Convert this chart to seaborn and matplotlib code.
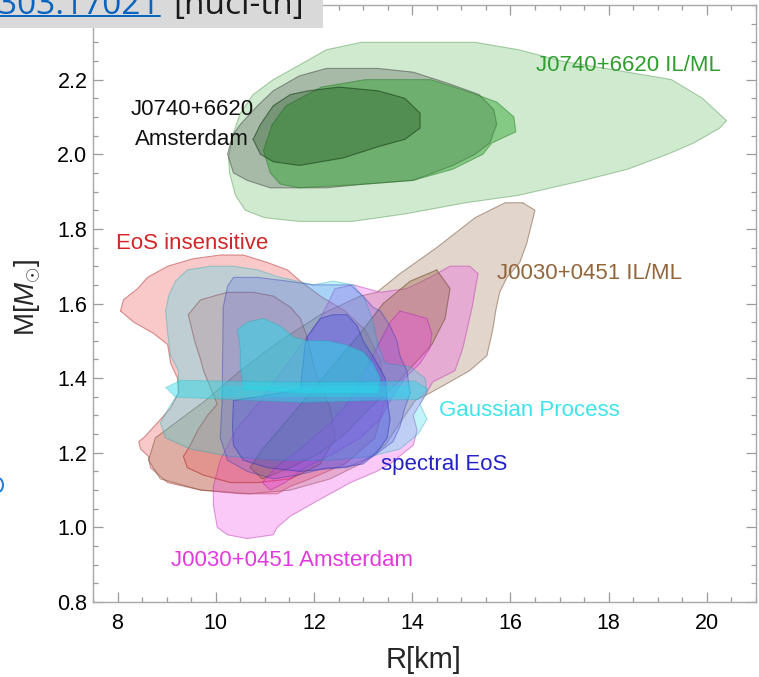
import matplotlib
matplotlib.use("Agg")
import matplotlib.pyplot as plt
from matplotlib.ticker import MultipleLocator, FixedLocator
from matplotlib.patches import Rectangle, Ellipse
import seaborn as sns

# ---------------------------------------------------------------
# Credible regions in the mass-radius plane: vertices (R [km], M [Msun])
# ---------------------------------------------------------------
# PSR J0740+6620, IL/ML analysis
j0740_ilml_95_R = [11.58, 12.25, 12.96, 14.02, 15.28, 16.17, 17.04, 18.39, 19.28, 19.91, 20.40, 20.26,
                   19.73, 19.20, 18.39, 17.49, 16.17, 15.09, 13.85, 12.78, 11.70, 10.99, 10.60, 10.40,
                   10.28, 10.26, 10.34, 10.50, 10.76, 11.17]
j0740_ilml_95_M = [2.23, 2.28, 2.30, 2.30, 2.30, 2.28, 2.25, 2.22, 2.20, 2.15, 2.09, 2.07,
                   2.03, 2.00, 1.96, 1.93, 1.89, 1.87, 1.84, 1.82, 1.82, 1.83, 1.85, 1.89,
                   1.95, 1.99, 2.05, 2.11, 2.16, 2.20]
j0740_ilml_68_R = [10.97, 11.15, 11.43, 12.15, 13.04, 14.38, 15.09, 15.72, 16.07, 16.11, 15.62, 15.44,
                   14.83, 14.02, 13.04, 11.70, 11.31, 11.11]
j0740_ilml_68_M = [2.01, 2.08, 2.13, 2.18, 2.20, 2.20, 2.17, 2.14, 2.10, 2.06, 2.03, 2.00,
                   1.96, 1.93, 1.92, 1.91, 1.92, 1.95]
# PSR J0740+6620, Amsterdam analysis
j0740_ams_95_R = [10.24, 10.34, 10.50, 10.85, 11.17, 11.70, 12.25, 13.30, 14.02, 14.73, 15.36, 15.66,
                  15.72, 15.58, 15.28, 14.83, 14.02, 13.04, 12.25, 11.62, 11.11, 10.64, 10.36]
j0740_ams_95_M = [2.00, 2.05, 2.08, 2.13, 2.17, 2.21, 2.23, 2.23, 2.22, 2.19, 2.16, 2.12,
                  2.08, 2.03, 2.00, 1.97, 1.93, 1.92, 1.91, 1.91, 1.91, 1.93, 1.95]
j0740_ams_68_R = [10.76, 10.91, 11.17, 11.52, 11.88, 12.51, 13.30, 13.85, 14.16, 14.16, 13.85, 13.30,
                  12.59, 11.70, 11.17, 10.91]
j0740_ams_68_M = [2.04, 2.08, 2.13, 2.16, 2.17, 2.18, 2.17, 2.15, 2.11, 2.07, 2.04, 2.02,
                  1.99, 1.97, 1.98, 2.00]

# PSR J0030+0451, IL/ML analysis
j0030_ilml_95_R = [16.25, 16.50, 16.33, 16.19, 15.93, 15.78, 15.70, 15.64, 15.52, 15.17, 14.77, 14.36,
                   14.06, 13.75, 13.45, 12.94, 12.33, 11.52, 10.70, 9.69, 8.87, 8.63, 8.77, 9.28,
                   9.79, 10.50, 11.31, 12.13, 12.94, 13.28, 13.75, 14.50, 15.28, 15.89]
j0030_ilml_95_M = [1.87, 1.85, 1.76, 1.71, 1.67, 1.63, 1.58, 1.53, 1.46, 1.42, 1.39, 1.36,
                   1.34, 1.28, 1.22, 1.17, 1.13, 1.10, 1.09, 1.10, 1.13, 1.18, 1.24, 1.29,
                   1.34, 1.42, 1.50, 1.57, 1.62, 1.63, 1.68, 1.75, 1.83, 1.87]
j0030_ilml_68_R = [14.50, 14.77, 14.67, 14.40, 14.06, 13.65, 13.14, 12.63, 12.13, 11.52, 10.95, 10.70,
                   10.95, 11.41, 11.92, 12.43, 12.94, 13.41, 13.96]
j0030_ilml_68_M = [1.69, 1.64, 1.56, 1.49, 1.44, 1.38, 1.32, 1.25, 1.20, 1.16, 1.13, 1.16,
                   1.21, 1.28, 1.36, 1.44, 1.52, 1.60, 1.66]
# PSR J0030+0451, Amsterdam analysis
j0030_ams_95_R = [9.95, 9.95, 9.99, 10.03, 10.24, 10.64, 11.17, 11.25, 11.52, 11.92, 12.19, 12.47,
                  12.74, 13.28, 13.55, 14.02, 14.10, 14.02, 14.42, 14.87, 15.03, 15.22, 15.34, 15.17,
                  14.77, 14.36, 13.89, 13.35, 12.80, 12.43, 12.13, 11.52, 10.91, 10.40, 10.09]
j0030_ams_95_M = [1.11, 1.06, 1.03, 1.00, 0.98, 0.97, 0.98, 1.00, 1.03, 1.06, 1.08, 1.10,
                  1.12, 1.15, 1.17, 1.22, 1.26, 1.30, 1.39, 1.42, 1.48, 1.59, 1.68, 1.70,
                  1.70, 1.67, 1.64, 1.63, 1.65, 1.64, 1.56, 1.45, 1.34, 1.26, 1.18]
j0030_ams_68_R = [13.75, 14.30, 14.40, 14.36, 14.16, 13.85, 13.55, 13.35, 12.94, 12.43, 11.82, 11.41,
                  11.11, 10.95, 11.21, 11.72, 12.33, 12.74, 13.04, 13.35, 13.55]
j0030_ams_68_M = [1.58, 1.56, 1.52, 1.48, 1.44, 1.40, 1.34, 1.29, 1.24, 1.20, 1.16, 1.12,
                  1.10, 1.12, 1.16, 1.21, 1.28, 1.34, 1.42, 1.50, 1.55]

# EoS-insensitive inference
eos_ins_95_R = [8.06, 8.12, 8.41, 8.61, 9.02, 9.54, 10.09, 10.56, 11.05, 11.46, 11.72, 12.13,
                12.63, 13.04, 13.35, 13.45, 13.24, 12.63, 11.92, 11.52, 11.25, 10.50, 9.69, 9.02,
                8.67, 8.63, 8.47, 8.43, 8.53, 8.81, 9.08, 9.24, 9.22, 9.08, 9.02, 8.73, 8.33]
eos_ins_95_M = [1.58, 1.61, 1.64, 1.67, 1.70, 1.72, 1.73, 1.73, 1.71, 1.69, 1.66, 1.62,
                1.58, 1.53, 1.45, 1.34, 1.24, 1.17, 1.13, 1.11, 1.09, 1.09, 1.10, 1.12,
                1.16, 1.19, 1.21, 1.23, 1.24, 1.28, 1.32, 1.36, 1.40, 1.44, 1.49, 1.52, 1.55]
eos_ins_68_R = [9.44, 9.69, 10.24, 10.76, 11.17, 11.52, 11.72, 11.86, 12.02, 12.33, 12.43, 12.13,
                11.52, 10.85, 10.30, 9.75, 9.42, 9.34, 9.48, 9.63, 9.83, 10.03, 9.75, 9.69, 9.57]
eos_ins_68_M = [1.57, 1.61, 1.63, 1.63, 1.62, 1.59, 1.56, 1.51, 1.42, 1.32, 1.24, 1.17,
                1.13, 1.12, 1.12, 1.14, 1.16, 1.19, 1.22, 1.26, 1.30, 1.33, 1.42, 1.45, 1.50]

# Gaussian-process EoS inference
gp_95_R = [8.98, 9.04, 9.18, 9.42, 9.89, 10.36, 10.85, 11.31, 11.66, 11.98, 12.39, 12.80,
           13.04, 13.18, 13.30, 13.45, 13.96, 14.26, 14.30, 14.16, 14.30, 14.12, 13.75, 13.14,
           12.33, 11.31, 10.30, 9.48, 8.98, 8.87, 9.04, 9.24, 9.24, 9.08, 9.02]
gp_95_M = [1.58, 1.62, 1.66, 1.69, 1.70, 1.70, 1.69, 1.67, 1.66, 1.65, 1.66, 1.65,
           1.61, 1.56, 1.49, 1.44, 1.43, 1.40, 1.36, 1.33, 1.29, 1.25, 1.21, 1.19,
           1.18, 1.18, 1.19, 1.21, 1.24, 1.28, 1.32, 1.36, 1.42, 1.46, 1.52]
gp_68_R = [10.44, 10.64, 10.97, 11.31, 11.58, 11.86, 12.27, 12.63, 13.00, 13.20, 13.35, 13.30,
           11.72, 10.56, 10.50, 10.50]
gp_68_M = [1.53, 1.55, 1.56, 1.54, 1.51, 1.50, 1.50, 1.49, 1.47, 1.44, 1.40, 1.36,
           1.36, 1.37, 1.43, 1.48]
gp_band_R = [8.98, 9.28, 11.72, 14.06, 14.32, 14.12, 11.72, 9.18]
gp_band_M = [1.375, 1.394, 1.389, 1.392, 1.370, 1.343, 1.335, 1.349]
gp_core_R = [10.09, 13.96, 13.96, 10.09]
gp_core_M = [1.378, 1.378, 1.349, 1.349]

# spectral EoS inference
spec_95_R = [10.24, 10.36, 10.85, 11.46, 11.98, 12.39, 12.74, 13.00, 13.20, 13.35, 13.55, 13.69,
             13.75, 13.89, 13.96, 13.85, 13.75, 13.61, 13.20, 12.67, 12.27, 11.66, 11.17, 10.64,
             10.24, 10.09, 10.13, 10.15]
spec_95_M = [1.646, 1.67, 1.67, 1.66, 1.65, 1.65, 1.65, 1.62, 1.59, 1.58, 1.54, 1.50,
             1.46, 1.42, 1.36, 1.32, 1.27, 1.23, 1.19, 1.16, 1.16, 1.14, 1.13, 1.15,
             1.18, 1.24, 1.34, 1.59]
spec_68_R = [10.36, 11.31, 11.72, 11.82, 11.86, 12.13, 12.39, 12.67, 12.88, 13.00, 13.24, 13.45,
             13.49, 13.55, 13.49, 13.28, 13.00, 12.53, 11.72, 11.05, 10.56, 10.36, 10.34]
spec_68_M = [1.34, 1.36, 1.37, 1.49, 1.51, 1.56, 1.57, 1.57, 1.54, 1.50, 1.45, 1.40,
             1.34, 1.29, 1.24, 1.20, 1.17, 1.16, 1.15, 1.16, 1.18, 1.22, 1.27]

# label text, colour and (R, M) anchor
label_text = ["J0740+6620 IL/ML", "J0740+6620", "Amsterdam", "EoS insensitive",
              "J0030+0451 IL/ML", "Gaussian Process", "spectral EoS", "J0030+0451 Amsterdam"]
label_R = [18.41, 9.52, 9.52, 9.52, 17.61, 16.39, 14.65, 11.56]
label_M = [2.237, 2.120, 2.039, 1.761, 1.681, 1.314, 1.169, 0.912]
label_color = ["#2f9e2f", "#111111", "#111111", "#d42626", "#93653a", "#3fe3ec", "#2222c8", "#e03ade"]

x_ticks = [8, 10, 12, 14, 16, 18, 20]
y_ticks = [0.8, 1.0, 1.2, 1.4, 1.6, 1.8, 2.0, 2.2]

# ---------------------------------------------------------------
sns.set_theme(style="ticks")
plt.rcParams["font.family"] = ["Liberation Sans", "DejaVu Sans"]
plt.rcParams["mathtext.fontset"] = "custom"
plt.rcParams["mathtext.it"] = "Liberation Sans:italic"
plt.rcParams["mathtext.rm"] = "Liberation Sans"

fig = plt.figure(figsize=(7.59, 6.77), dpi=100)
ax = fig.add_axes([93 / 759, 75 / 677, 663 / 759, 597 / 677])

GREEN = (0.16, 0.63, 0.16)
GRAY = (0.25, 0.25, 0.25)
DARKGREEN = (0.12, 0.32, 0.12)
BROWN = (0.60, 0.42, 0.28)
MAGENTA = (0.95, 0.25, 0.90)
RED = (0.93, 0.25, 0.25)
CYAN = (0.15, 0.86, 0.92)
BLUE = (0.25, 0.30, 0.93)


def darker(c, f=0.75):
    return tuple(v * f for v in c)


def region(R, M, color, alpha, edge_alpha=0.55, lw=0.8, z=2):
    ax.fill(R, M, facecolor=color, alpha=alpha, lw=0, zorder=z)
    sns.lineplot(x=list(R) + [R[0]], y=list(M) + [M[0]], sort=False, estimator=None,
                 color=darker(color), lw=lw, alpha=edge_alpha, ax=ax, zorder=z)


# J0740+6620 posteriors
region(j0740_ilml_95_R, j0740_ilml_95_M, GREEN, 0.22, 0.35)
region(j0740_ams_95_R, j0740_ams_95_M, GRAY, 0.28, 0.45)
region(j0740_ilml_68_R, j0740_ilml_68_M, GREEN, 0.45, 0.45)
region(j0740_ams_68_R, j0740_ams_68_M, DARKGREEN, 0.35, 0.6)

# J0030+0451 posteriors and EoS inferences
region(eos_ins_95_R, eos_ins_95_M, RED, 0.28, 0.5)
region(j0030_ilml_95_R, j0030_ilml_95_M, BROWN, 0.28, 0.5)
region(j0030_ams_95_R, j0030_ams_95_M, MAGENTA, 0.28, 0.45)
region(eos_ins_68_R, eos_ins_68_M, RED, 0.22, 0.6)
region(j0030_ilml_68_R, j0030_ilml_68_M, BROWN, 0.38, 0.6)
region(j0030_ams_68_R, j0030_ams_68_M, MAGENTA, 0.32, 0.5)
region(gp_95_R, gp_95_M, CYAN, 0.28, 0.35)
region(spec_95_R, spec_95_M, BLUE, 0.2, 0.4)
region(spec_68_R, spec_68_M, BLUE, 0.3, 0.5)
region(gp_68_R, gp_68_M, CYAN, 0.5, 0.3)
region(gp_band_R, gp_band_M, CYAN, 0.45, 0.25)
region(gp_core_R, gp_core_M, CYAN, 0.35, 0.0)

for txt, r, m, c in zip(label_text, label_R, label_M, label_color):
    ax.text(r, m, txt, color=c, fontsize=16, ha="center", va="center", zorder=6)

ax.set_xlim(7.5, 21.0)
ax.set_ylim(0.8, 2.4)
ax.xaxis.set_major_locator(FixedLocator(x_ticks))
ax.yaxis.set_major_locator(FixedLocator(y_ticks))
ax.set_xticklabels([str(v) for v in x_ticks])
ax.set_yticklabels([f"{v:.1f}" for v in y_ticks])
ax.xaxis.set_minor_locator(MultipleLocator(0.5))
ax.yaxis.set_minor_locator(MultipleLocator(0.05))
ax.tick_params(which="both", direction="in", top=True, right=True, color="#9a9a9a",
               width=0.9, labelsize=15.5, labelcolor="black")
ax.tick_params(axis="x", which="both", pad=8)
ax.tick_params(axis="y", which="both", pad=4)
ax.tick_params(which="major", length=7)
ax.tick_params(which="minor", length=3.5)
for s in ax.spines.values():
    s.set_color("#a8a8a8")
    s.set_linewidth(1.0)

ax.set_xlabel("R[km]", fontsize=21, va="center")
ax.set_ylabel(r"M[$M_{\odot}$]", fontsize=20, va="center")
ax.xaxis.set_label_coords((424 - 93) / 663, (602 - 660) / 597)
ax.yaxis.set_label_coords((28 - 93) / 663, (602 - 297) / 597)

# reference banner in the upper-left corner
fig.patches.append(Rectangle((0, 1 - 28 / 677), 323 / 759, 28 / 677, transform=fig.transFigure,
                             facecolor="#d9d9d9", edgecolor="none", zorder=10))
fig.text(160 / 759, 1 - 14 / 677, "2303.17021", color="#0563C1", fontsize=24,
         family=["Open Sans", "DejaVu Sans"], ha="right", va="baseline", zorder=11)
fig.lines.append(plt.Line2D([0, 160 / 759], [1 - 16 / 677, 1 - 16 / 677], transform=fig.transFigure,
                            color="#0563C1", lw=1.4, zorder=11))
fig.text(173 / 759, 1 - 14 / 677, "[nucl-th]", color="#1a1a1a", fontsize=24,
         family=["Open Sans", "DejaVu Sans"], ha="left", va="baseline", zorder=11)
fig.patches.append(Ellipse((-2 / 759, 1 - 485 / 677), 10 / 759, 14 / 677, transform=fig.transFigure,
                           facecolor="none", edgecolor="#2a7fd4", lw=1.5, zorder=11))

fig.savefig("out.png", dpi=100)
